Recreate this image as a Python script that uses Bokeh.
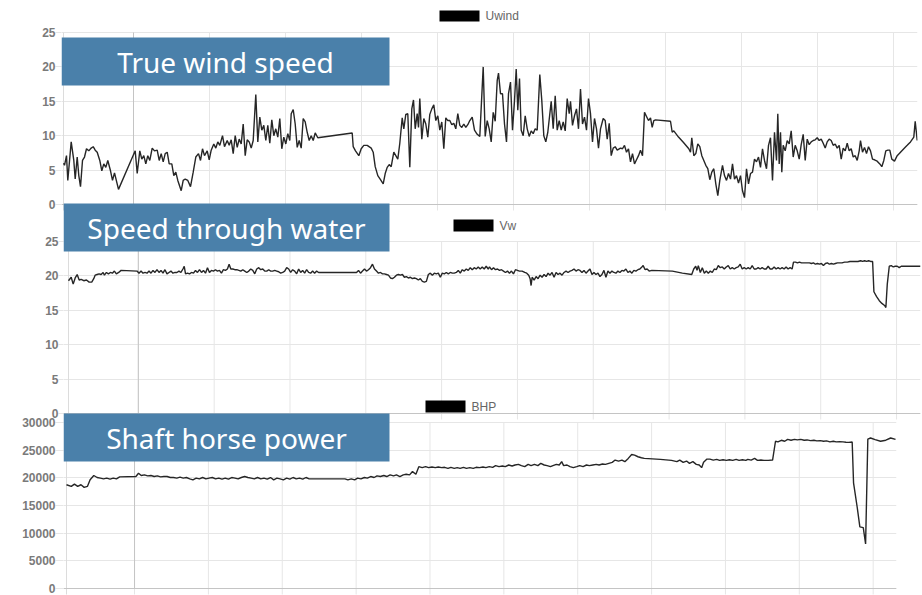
from bokeh.plotting import figure
from bokeh.models import Range1d, FixedTicker, BoxAnnotation, Label, Span
from bokeh.layouts import column
from bokeh.embed import file_html
from bokeh.resources import INLINE

# ---------------- data (time index, value) ----------------
uwind_samples = [
    (0, 6.0), (1, 5.7), (3, 7.1), (4.3, 3.5), (7.7, 9.1), (10.3, 6.4), (11.7, 3.7), (13.7, 6.9), (15.3, 4.2),
    (17, 2.6), (19, 6.4), (21, 6.9), (23, 8.1), (25.3, 7.8), (27.7, 8.2), (29.7, 8.4), (31.7, 7.9), (33.7, 7.6),
    (36.3, 6.4), (38.3, 4.9), (40.3, 5.9), (42.3, 5.4), (44.3, 6.4), (47, 4.9), (49, 3.5), (51, 4.6), (55, 2.2),
    (71.7, 7.8), (73.7, 4.5), (76.3, 7.8), (78.3, 6.6), (80.3, 7.1), (82.3, 5.9), (84.3, 7.1), (86.3, 6.4),
    (88.7, 8.2), (91, 7.8), (93.7, 7.9), (95.7, 6.4), (97.7, 7.4), (99.7, 6.2), (101.7, 7.4), (103.7, 7.6),
    (105.7, 5.9), (108.3, 5.9), (110.3, 4.2), (112.3, 4.7), (114.3, 3.5), (117.7, 2.0), (119.7, 3.5), (121.7, 3.7),
    (124.3, 3.5), (127, 2.6), (129.7, 4.7), (132.3, 6.9), (135, 7.4), (137, 6.4), (139, 8.1), (141, 7.1),
    (143.7, 7.8), (145.7, 6.5), (147.7, 7.9), (150.3, 8.8), (152.3, 8.2), (154.3, 9.1), (156.3, 8.6), (159, 10.0),
    (161, 8.4), (163.7, 9.3), (165.7, 8.6), (167.7, 9.4), (169.7, 7.4), (171.7, 10.0), (173.7, 8.3), (175.7, 9.5),
    (177.7, 8.8), (179.7, 11.7), (181.7, 7.1), (183.7, 9.4), (185.7, 9.1), (187.7, 8.2), (189.7, 9.3), (192.3, 16.0),
    (194.3, 9.1), (196.3, 12.7), (198.3, 10.8), (200.3, 11.5), (202.3, 9.3), (204.3, 11.5), (206.3, 8.9),
    (208.3, 12.3), (210.3, 10.0), (212.3, 11.0), (214.3, 9.8), (216.3, 12.5), (218.3, 8.1), (220.3, 9.8),
    (222.3, 8.8), (224.3, 10.3), (226.3, 9.3), (227.7, 13.2), (229.7, 13.8), (231.7, 11.7), (233.7, 8.3),
    (235.7, 9.3), (237.7, 8.2), (239.7, 12.5), (241.7, 12.0), (243.7, 10.5), (245.7, 9.3), (247.7, 10.0),
    (249.7, 9.3), (251.7, 10.4), (254.3, 9.7),
    (288.7, 10.4), (289.7, 8.4), (292, 7.8), (295.3, 7.1), (297.7, 8.1), (300.3, 8.6), (303.7, 8.6), (307.7, 8.2),
    (309.7, 7.6), (311.7, 5.5), (314.3, 4.2), (317, 3.6), (319.7, 3.0), (321.7, 4.5), (323.7, 5.4), (325.7, 5.8),
    (327.7, 5.5), (330.3, 7.6), (332.3, 7.1), (334.3, 6.6), (336.3, 8.9), (338.7, 12.6), (340.3, 11.0),
    (342.3, 13.1), (344.3, 13.2), (346.3, 5.4), (348.3, 13.9), (350, 15.2), (351.7, 11.0), (353.7, 13.2),
    (355, 11.2), (356.3, 15.4), (358.3, 9.5), (360.3, 12.5), (362.3, 11.7), (364.3, 9.8), (366.3, 13.1),
    (368.3, 13.9), (370.3, 14.5), (372.3, 12.2), (374.3, 12.9), (376.3, 10.8), (378.3, 12.0), (380.3, 8.1),
    (382.3, 12.6), (384.3, 12.2), (386.3, 12.2), (388.3, 11.6), (390.3, 11.8), (392.3, 11.0), (394.3, 13.2),
    (396.3, 11.5), (398.3, 11.2), (400.3, 11.7), (402.3, 11.2), (404.3, 11.6), (406.3, 12.2), (408.7, 12.7),
    (411, 10.8), (413.7, 10.2), (416.3, 9.9), (419.7, 20.0), (421.7, 9.9), (423.7, 12.2), (425.7, 11.0),
    (427.7, 9.1), (429.7, 13.4), (431.7, 12.1), (433.7, 18.0), (435, 19.1), (437, 16.1), (439, 16.1), (441, 11.7),
    (443, 9.1), (445, 16.1), (447, 17.8), (449, 10.8), (451, 15.1), (452.7, 19.7), (454.3, 13.7), (456, 18.3),
    (457.7, 10.8), (459.7, 10.0), (461.7, 12.9), (463.7, 11.0), (465.7, 9.9), (467.7, 10.7), (469.7, 10.3),
    (471.7, 11.0), (473.7, 10.8), (476.3, 18.9), (478.3, 15.1), (480.3, 10.0), (482.3, 9.1), (484.3, 10.5),
    (487.7, 15.0), (489.7, 11.0), (491.7, 15.8), (493.7, 10.8), (495.7, 12.2), (497.7, 10.8), (499.7, 12.0),
    (501.7, 10.7), (503.7, 15.4), (505.7, 13.2), (507, 15.0), (509, 11.5), (511, 12.9), (513, 13.9), (515, 11.0),
    (517, 16.8), (519, 11.7), (521, 12.7), (523, 10.8), (525, 15.4), (527, 13.2), (529, 9.1), (531, 12.5),
    (533, 11.0), (535, 8.2), (537, 11.0), (539.7, 12.5), (541.7, 12.2), (543.7, 9.5), (545.7, 11.8), (547.7, 7.1),
    (549.7, 8.2), (551.7, 8.4), (553.7, 7.9),
    (557, 8.2), (559, 8.1), (561, 8.6), (563, 7.6), (565, 8.1), (567, 6.2), (569, 7.4), (571, 5.9), (573, 6.5),
    (575, 7.1), (577, 7.9), (579, 7.1), (581, 13.4), (583, 12.8), (585, 12.2), (587, 12.6), (588.7, 11.2),
    (590.3, 12.2), (592, 12.3), (607, 12.1), (608.7, 10.5), (610.3, 10.7), (615, 9.8), (620, 9.0), (625.3, 8.1),
    (627, 7.6), (628.3, 9.7), (630.3, 7.1), (632.3, 7.4), (634.3, 8.8), (636.3, 8.4), (638.3, 7.1), (640.3, 6.4),
    (642.3, 5.7), (644.3, 5.2), (646.3, 3.6), (648.3, 4.7), (650.3, 5.2), (652.3, 3.0), (654.3, 1.3), (656.3, 3.5),
    (659, 5.7), (661, 4.2), (663, 3.5), (665, 4.5), (667, 3.7), (669, 5.9), (671, 3.7), (673, 4.2), (675, 3.1),
    (677, 4.2), (679, 2.0), (681, 1.0), (683, 5.2), (685, 3.0), (687, 4.5), (689, 4.7), (691, 6.6), (693, 6.2),
    (695, 6.9), (697, 5.4), (699, 8.1), (701, 6.4), (703, 5.2), (705, 8.6), (707, 9.7), (709, 3.5), (711, 10.5),
    (713, 6.4), (714.3, 13.2), (715.7, 5.9), (717, 10.5), (718.3, 4.7), (719.7, 8.6), (721.7, 7.8), (723.7, 9.3),
    (725.7, 8.8), (727.7, 10.7), (729.7, 6.9), (731.7, 8.6), (733.7, 7.8), (735.7, 6.6), (737.7, 8.7),
    (739.7, 10.2), (741.7, 6.4), (743.7, 9.5), (745.7, 8.7), (747.7, 9.1), (749.7, 9.3), (751.7, 9.4),
    (753.7, 9.7), (755.7, 9.3), (757.7, 9.5), (759.7, 8.9), (761.7, 8.2), (763.7, 9.1), (765.7, 9.5),
    (767.7, 9.3), (769.7, 8.6), (771.7, 8.8), (773.7, 8.2), (775.7, 8.6), (777.7, 6.6), (779.7, 8.2),
    (781.7, 7.8), (783.7, 8.9), (785.7, 7.8), (787.7, 8.1), (789.7, 6.9), (791.7, 7.1), (793.7, 6.4),
    (795.7, 7.8), (797, 9.3), (799, 7.6), (801, 8.3), (803, 7.4), (805, 8.4), (807, 7.8), (809, 6.6), (811, 6.5),
    (813.7, 6.3), (816.3, 5.9), (818.3, 5.5), (820.3, 6.4), (822.3, 7.8), (824.3, 7.9), (826.3, 7.9),
    (828.3, 6.6), (831, 6.3), (833.7, 7.1), (837, 7.6), (840.3, 8.1), (843.7, 8.6), (847, 9.1), (850.3, 9.8),
    (851.7, 12.1), (853.7, 9.3),
]

vw_samples = [
    (0, 19.3), (2.7, 19.8), (4.7, 18.8), (6.7, 19.7), (8.7, 20.2), (10.7, 19.4), (12.7, 19.5), (15.3, 19.3),
    (18, 19.4), (20.7, 19.1), (23.3, 19.1), (25.3, 19.6), (26.7, 20.1), (28.7, 20.2), (30.7, 20.3), (32.7, 20.2),
    (34.7, 20.5), (36, 20.1), (38, 20.5), (40, 20.3), (42, 20.5), (44, 20.4), (46, 20.7), (48, 20.3), (50.3, 20.5),
    (52.7, 20.8), (68.7, 20.7), (70.7, 20.4), (72.7, 20.7), (74.7, 20.4), (76.7, 20.5), (78.7, 20.4), (80.7, 20.7),
    (82.7, 20.4), (84.7, 20.8), (86.7, 20.5), (88.7, 20.9), (90.7, 20.5), (92.7, 20.8), (94.7, 20.4), (96.7, 20.9),
    (98.7, 20.3), (100.7, 20.5), (102.7, 20.7), (104.7, 20.4), (106.7, 20.5), (108.7, 20.5), (110.7, 20.7),
    (112.7, 20.5), (114.7, 21.0), (116, 21.4), (117.3, 20.3), (119.3, 20.4), (121.3, 20.3), (123.3, 20.5),
    (125.3, 20.4), (127.3, 20.8), (129.3, 20.5), (131.3, 20.9), (133.3, 20.5), (135.3, 20.8), (137.3, 20.4),
    (139.3, 21.2), (141.3, 20.5), (143.3, 20.8), (145.3, 20.7), (147.3, 20.9), (149.3, 20.7), (151.3, 20.8),
    (153.3, 20.4), (155.3, 20.9), (157.3, 20.8), (159.3, 21.0), (161, 21.7), (162.7, 21.0), (164.7, 21.0),
    (166.7, 20.9), (168.7, 20.9), (170.7, 20.8), (172.7, 20.7), (174.7, 20.9), (176.7, 20.7), (178.7, 20.5),
    (180.7, 20.7), (182.7, 21.0), (184.7, 20.8), (186.7, 20.3), (188.7, 21.0), (190.7, 21.2), (192.7, 20.9),
    (194.7, 21.0), (196.7, 20.7), (198.7, 20.7), (200.7, 20.9), (202.7, 20.7), (204.7, 20.7), (206.7, 20.8),
    (208.7, 20.7), (210.7, 20.6), (212.7, 20.4), (214.7, 20.5), (216.7, 20.7), (218.7, 21.2), (220.7, 21.0),
    (222.7, 20.5), (224.7, 20.9), (226.7, 20.7), (228.7, 20.3), (230.7, 21.0), (232.7, 20.5), (234.7, 20.8),
    (236.7, 20.4), (238.7, 20.9), (240.7, 20.5), (242.7, 20.4), (244.7, 20.7), (246.7, 20.4), (248.7, 20.7),
    (250.7, 20.5), (288.7, 20.5), (290.7, 20.8), (292.7, 20.4), (294.7, 20.7), (296.7, 21.0), (298.7, 20.7),
    (300.7, 20.9), (302.7, 21.2), (304.7, 21.7), (306.7, 21.0), (308.7, 20.7), (310.7, 20.4), (312.7, 20.5),
    (314.7, 20.3), (316.7, 20.3), (318.7, 20.2), (320.7, 20.1), (322.7, 19.7), (324.7, 19.6), (326.7, 19.8),
    (328.7, 20.1), (330.7, 20.2), (332.7, 20.1), (334.7, 20.2), (336.7, 19.8), (338.7, 19.9), (340.7, 19.7),
    (342.7, 19.8), (344.7, 19.6), (346.7, 19.7), (348.7, 19.6), (350.7, 19.4), (352.7, 19.6), (354.7, 19.2),
    (356.7, 19.1), (358.7, 19.2), (360.7, 20.2), (362.7, 20.4), (364.7, 20.1), (366.7, 20.4), (368.7, 20.3),
    (370.7, 20.4), (372.7, 19.8), (374.7, 20.4), (376.7, 20.3), (378.7, 20.5), (380.7, 20.3), (382.7, 20.5),
    (384.7, 20.4), (386.7, 20.4), (388.7, 20.5), (390.7, 20.8), (392.7, 20.4), (394.7, 20.9), (396.7, 20.7),
    (398.7, 21.0), (400.7, 20.8), (402.7, 21.2), (404.7, 20.9), (406.7, 21.2), (408.7, 21.0), (410.7, 21.3),
    (412.7, 21.0), (414.7, 21.3), (416.7, 21.0), (418.7, 21.4), (420.7, 21.0),
    (422, 21.3), (424, 20.9), (426, 21.2), (428, 20.9), (430, 21.0), (432, 20.8), (434, 20.9), (436, 20.7),
    (438, 20.5), (440, 20.7), (442, 20.4), (444, 20.7), (446, 20.3), (448, 20.9), (450, 20.8), (452, 20.7),
    (454.7, 20.7), (457.3, 20.5), (459.3, 20.4), (461.3, 20.1), (462.7, 19.6), (463.7, 18.6), (464.7, 19.8),
    (466.7, 19.4), (468.7, 19.9), (470.7, 19.6), (472.7, 20.1), (474.7, 19.8), (476.7, 20.2), (478.7, 19.9),
    (480.7, 20.4), (482.7, 20.1), (484.7, 20.5), (486.7, 19.8), (488.7, 20.5), (490.7, 20.2), (492.7, 20.4),
    (494.7, 20.1), (496.7, 20.5), (498.7, 20.7), (500.7, 20.5), (502.7, 20.7), (504.7, 20.8), (506.7, 21.0),
    (508.7, 20.7), (510.7, 20.9), (512.7, 20.8), (514.7, 20.5), (516.7, 20.8), (518.7, 20.4), (520.7, 20.7),
    (522.7, 21.0), (524.7, 20.2), (526.7, 20.5), (528.7, 20.2), (530.7, 20.4), (532.7, 19.9), (534.7, 20.2),
    (536.7, 20.8), (538.7, 19.8), (540.7, 20.7), (542.7, 20.4), (544.7, 20.7), (546.7, 20.5), (548.7, 20.4),
    (550.7, 20.7), (552.7, 20.5), (554.7, 20.8), (556.7, 20.7), (558.7, 21.0), (560.7, 20.5), (562.7, 20.7),
    (564.7, 20.4), (566.7, 20.8), (568.7, 20.7), (570.7, 20.9), (572.7, 21.0), (574.7, 21.3), (576, 21.5),
    (578, 20.9), (580, 21.0), (582, 20.7), (584.7, 20.8), (605.3, 20.7), (615.3, 20.4), (624.7, 20.2),
    (626.7, 21.0), (628.7, 21.4), (630, 20.8), (631.3, 21.5), (633.3, 20.5), (635.3, 21.2), (637.3, 20.4),
    (639.3, 20.7), (641.3, 20.4), (643.3, 20.7), (645.3, 20.5), (647.3, 21.0), (649.3, 20.9), (651.3, 21.5),
    (653.3, 21.2), (655.3, 21.3), (657.3, 21.0), (659.3, 21.3), (661.3, 21.5), (663.3, 21.0), (665.3, 21.2),
    (667.3, 21.0), (669.3, 21.2), (671.3, 21.3), (673.3, 21.7), (675.3, 21.0), (677.3, 21.2), (679.3, 21.0),
    (681.3, 21.2), (683.3, 21.0), (685.3, 21.5), (687.3, 21.0), (689.3, 21.0), (691.3, 21.2), (693.3, 21.0),
    (695.3, 21.2), (697.3, 21.0), (699.3, 21.0), (701.3, 21.4), (703.3, 21.0), (705.3, 21.0), (707.3, 21.3),
    (709.3, 21.0), (711.3, 21.2), (713.3, 21.0), (715.3, 21.2), (717.3, 21.0), (719.3, 21.3), (721.3, 21.0),
    (723.3, 21.2), (725.3, 21.0), (726.7, 22.0), (728.7, 22.0), (730.7, 21.9), (732.7, 22.0), (734.7, 21.9),
    (736.7, 21.9), (738.7, 21.9), (740.7, 21.9), (742.7, 21.9), (744.7, 21.8), (746.7, 21.9), (748.7, 21.7),
    (750.7, 21.8), (752.7, 21.7), (754.7, 21.8), (756.7, 21.5), (758.7, 21.8), (760.7, 21.9), (762.7, 21.7),
    (764.7, 21.8), (766.7, 21.7), (768.7, 21.8), (770.7, 21.9), (772.7, 21.9), (775.3, 21.9), (778, 22.0),
    (780.7, 22.0), (783.3, 22.1), (786, 22.1), (788.7, 22.1), (791.3, 22.1), (794, 22.2), (796, 22.1), (798, 22.2),
    (800, 22.1), (802, 22.2), (804, 22.1), (806, 22.1), (807.3, 17.7), (810, 17.0), (812.7, 16.4), (815.3, 16.0),
    (818, 15.7), (819.3, 15.4), (820.7, 18.8), (822.7, 21.4), (824.7, 21.5), (826.7, 21.3), (828.7, 21.4),
    (830.7, 21.4), (832.7, 21.2), (834.7, 21.4), (837.3, 21.4), (840.7, 21.4), (844, 21.4), (847.3, 21.4),
    (851.3, 21.4), (854, 21.4),
]

bhp_samples = [
    (0, 18750), (4.9, 18450), (8.2, 18870), (11.5, 18450), (14.9, 18750), (18.2, 18270), (21.5, 18450),
    (24.3, 19640), (28.1, 20420), (31.5, 20060), (34.8, 19940), (38.1, 19820), (41.4, 19940), (44.8, 19760),
    (48.1, 19940), (51.4, 19820), (54.7, 20180), (71.4, 20240), (74.1, 20830), (76.9, 20420), (80.2, 20540),
    (83.5, 20360), (86.9, 20420), (90.2, 20240), (93.5, 20360), (96.8, 20180), (100.2, 20240), (103.5, 20240),
    (106.8, 20060), (110.1, 20060), (113.5, 19940), (116.8, 20120), (120.1, 19940), (123.4, 20060), (126.8, 19820),
    (130.1, 19640), (133.4, 19940), (136.7, 19820), (140.1, 20060), (143.4, 19820), (146.7, 19940), (150, 20060),
    (153.4, 19820), (156.7, 19940), (160, 19760), (163.3, 19940), (166.6, 19760), (170, 20060), (173.3, 19940),
    (176.6, 19820), (179.9, 20060), (183.3, 20240), (186.6, 20060), (189.9, 19940), (193.2, 19820), (196.6, 20060),
    (199.9, 19820), (203.2, 19940), (206.5, 19760), (209.9, 20060), (213.2, 19640), (216.5, 19940), (219.8, 19820),
    (223.2, 19640), (226.5, 19940), (229.8, 19760), (233.1, 20060), (236.4, 19820), (239.8, 19940), (243.1, 19760),
    (246.4, 20060), (249.7, 19820),
    (286.5, 19820), (289.5, 19640), (293, 19820), (296.5, 19640), (299.5, 19940), (303, 19820), (306.5, 20060),
    (309.5, 19940), (313, 20240), (316.5, 20060), (319.5, 20360), (323, 20240), (326.5, 20420), (329.5, 20240),
    (333, 20540), (336.5, 20360), (339.5, 20540), (343, 20240), (346.5, 20540), (349.5, 20650), (353, 20540),
    (356, 21130), (359.5, 20650), (362.5, 22020), (366, 21840), (369.5, 22020), (372.5, 21840), (376, 21960),
    (379.5, 21840), (382.5, 21960), (386, 21840), (389, 21900), (392.5, 21720), (395.5, 21900), (399, 21720),
    (402, 21840), (405, 21720), (408.5, 21900), (411.5, 21720), (415, 21840), (418.5, 21720), (421.5, 21900),
    (425, 21840), (428.5, 21960), (431.5, 21840), (435, 22020), (438.5, 21900), (441.5, 22200), (445, 22020),
    (448.5, 22140), (451.5, 22020), (455, 22320), (458.5, 22140), (461.5, 22320), (465, 22440), (468, 22200),
    (471.5, 22020), (475, 22440), (478, 22200), (481.5, 22440), (485, 22200), (488, 22620), (491.5, 22320),
    (494.5, 22200), (498, 22020),
    (500.5, 22200), (504, 22440), (507, 22320), (509.5, 22920), (511.5, 22200), (515, 22320), (518, 22020),
    (521.5, 21840), (525, 22020), (528, 22200), (531.5, 22020), (535, 22320), (538, 22200), (541.5, 22320),
    (545, 22440), (548, 22320), (551.5, 22500), (554.5, 22440), (558, 22620), (561.5, 22800), (564.5, 23210),
    (568, 23030), (571.5, 23210), (574.5, 22920), (578, 23510), (581.5, 24220), (584.5, 24100), (588, 23810),
    (591.5, 23630), (594.5, 23510), (611, 23330), (622.5, 23150), (628, 22920), (631, 23210), (634.5, 22800),
    (638, 23030), (641, 22620), (644.5, 22920), (648, 22440), (651, 22320), (653.5, 21840), (655.5, 22800),
    (659, 23390), (662, 23390), (665.5, 23210), (669, 23330), (672, 23150), (675.5, 23270), (679, 23150),
    (682, 23270), (685.5, 23150), (689, 23330), (692, 23150), (695.5, 23270), (699, 23150),
    (701, 23330), (704.5, 23210), (708, 23510), (711, 23150), (714.5, 23210), (718, 23150), (722, 23150),
    (726.5, 23210), (729.5, 26610), (732, 26490), (735.5, 26790), (739, 26610), (742, 26960), (745.5, 26790),
    (749, 26960), (752, 26850), (755.5, 26960), (759, 26790), (762, 26850), (765.5, 26730), (769, 26790),
    (772, 26670), (775.5, 26730), (779, 26610), (782, 26670), (785.5, 26490), (789, 26610), (792, 26490),
    (795.5, 26550), (799, 26490), (802, 26430), (805, 26400), (808.4, 26480), (809.8, 19100), (813.6, 14640),
    (816.3, 11130), (819.8, 11000), (822.2, 8040), (824.5, 27000), (827.3, 27200), (832, 26900), (837.6, 26610),
    (843, 26800), (848, 27200), (853, 26960),
]

t_uwind = [s[0] for s in uwind_samples]
uwind = [s[1] for s in uwind_samples]
t_vw = [s[0] for s in vw_samples]
vw = [s[1] for s in vw_samples]
t_bhp = [s[0] for s in bhp_samples]
bhp = [s[1] for s in bhp_samples]

x_grid_ticks = [70, 146, 222, 298, 374, 450, 526, 602, 678, 754, 830]
speed_ticks = [0, 5, 10, 15, 20, 25]
bhp_ticks = [0, 5000, 10000, 15000, 20000, 25000, 30000]
titles = ["True wind speed", "Speed through water", "Shaft horse power"]
legend_labels = ["Uwind", "Vw", "BHP"]

GRID = "#e6e6e6"
ZERO = "#c4c4c4"
BORDER = "#dcdcdc"
LINE = "#262626"
BOX = "#4a80aa"
PAGE_W = 922
T_END = 854


def panel(t, vals, y_max, yticks, geo, title, legend):
    # geo: page-pixel layout of the panel
    fig_top, plot_top, plot_bottom, fig_bottom = geo["v"]
    plot_left, plot_right, label_right = geo["h"]
    bl, bt, br, bb = geo["box"]
    frame_left = min(plot_left, bl)
    ppu = (plot_bottom - plot_top) / y_max                 # pixels per y unit
    upx = T_END / (plot_right - plot_left)                 # x units per pixel
    y0 = -(fig_bottom - plot_bottom) / ppu
    y1 = y_max + (plot_top - fig_top) / ppu
    x0 = -(plot_left - frame_left) * upx

    p = figure(width=PAGE_W, height=fig_bottom - fig_top,
               x_range=Range1d(x0, T_END), y_range=Range1d(y0, y1),
               output_backend="svg", toolbar_location=None, title=None,
               min_border_left=frame_left, min_border_right=PAGE_W - plot_right,
               min_border_top=0, min_border_bottom=0,
               border_fill_color=None, background_fill_color=None, outline_line_color=None)
    p.xaxis.visible = False
    p.xgrid.visible = False
    p.ygrid.ticker = FixedTicker(ticks=yticks)
    p.ygrid.grid_line_color = GRID

    ya = p.yaxis[0]
    ya.ticker = FixedTicker(ticks=yticks)
    ya.bounds = (0, y_max)
    ya.axis_line_color = None
    ya.major_tick_in = 0
    ya.major_tick_out = frame_left - label_right
    ya.minor_tick_in = 0
    ya.minor_tick_out = 0
    ya.major_tick_line_color = GRID
    ya.major_label_standoff = 0
    ya.major_label_text_font = "Liberation Sans"
    ya.major_label_text_font_style = "bold"
    ya.major_label_text_font_size = "12px"
    ya.major_label_text_color = "#7a7a7a"

    n = len(x_grid_ticks)
    # left border of the plot area
    p.segment(x0=[0], y0=[-6 / ppu], x1=[0], y1=[y_max], line_color=BORDER, line_width=1)
    # vertical grid lines over the plot area, plus short tick marks below the baseline
    p.segment(x0=x_grid_ticks, y0=[0] * n, x1=x_grid_ticks, y1=[y_max] * n,
              line_color=GRID, line_width=1)
    p.segment(x0=x_grid_ticks, y0=[0] * n, x1=x_grid_ticks, y1=[-6 / ppu] * n,
              line_color=GRID, line_width=1)
    p.segment(x0=[x_grid_ticks[0]], y0=[0], x1=[x_grid_ticks[0]], y1=[y_max],
              line_color=ZERO, line_width=1)
    p.add_layout(Span(location=0, dimension="width", line_color=ZERO, line_width=1))

    p.line(t, vals, line_color=LINE, line_width=1.4)

    sx = lambda px: px - frame_left
    sy = lambda py: fig_bottom - py

    p.add_layout(BoxAnnotation(left=sx(bl), right=sx(br), top=sy(bt), bottom=sy(bb),
                               left_units="screen", right_units="screen",
                               top_units="screen", bottom_units="screen",
                               fill_color=BOX, fill_alpha=1.0, line_color=None))
    p.add_layout(Label(x=sx((bl + br) / 2), y=sy((bt + bb) / 2), x_units="screen", y_units="screen",
                       text=title, text_align="center", text_baseline="middle",
                       text_font="Noto Sans", text_font_size="28px", text_color="white"))

    ll, lt, lr, lb = geo["legend"]
    p.add_layout(BoxAnnotation(left=sx(ll), right=sx(lr), top=sy(lt), bottom=sy(lb),
                               left_units="screen", right_units="screen",
                               top_units="screen", bottom_units="screen",
                               fill_color="black", fill_alpha=1.0, line_color=None))
    p.add_layout(Label(x=sx(lr + 6), y=sy((lt + lb) / 2), x_units="screen", y_units="screen",
                       text=legend, text_align="left", text_baseline="middle",
                       text_font="Liberation Sans", text_font_size="12px", text_color="#666666"))
    return p


geo1 = dict(v=(0, 32, 204, 212), h=(63, 917, 55), box=(61, 37, 389, 85), legend=(439, 10, 479, 21))
geo2 = dict(v=(200, 241, 413, 421), h=(68, 920, 58), box=(63, 203, 389, 251), legend=(453, 219, 493, 231))
geo3 = dict(v=(398, 422, 588, 595), h=(66, 896, 55), box=(63, 413, 389, 461), legend=(425, 400, 465, 412))

p1 = panel(t_uwind, uwind, 25, speed_ticks, geo1, titles[0], legend_labels[0])
p2 = panel(t_vw, vw, 25, speed_ticks, geo2, titles[1], legend_labels[1])
p3 = panel(t_bhp, bhp, 30000, bhp_ticks, geo3, titles[2], legend_labels[2])

# each plot in its own wrapper so that frames are not aligned across panels;
# negative top margins let consecutive panels overlap as in the original screenshot
w1 = column(p1, spacing=0)
w2 = column(p2, spacing=0, styles={"margin-top": "%dpx" % (geo2["v"][0] - geo1["v"][3])})
w3 = column(p3, spacing=0, styles={"margin-top": "%dpx" % (geo3["v"][0] - geo2["v"][3])})

layout = column(w1, w2, w3, spacing=0)
open("out.html", "w").write(file_html(layout, INLINE))
